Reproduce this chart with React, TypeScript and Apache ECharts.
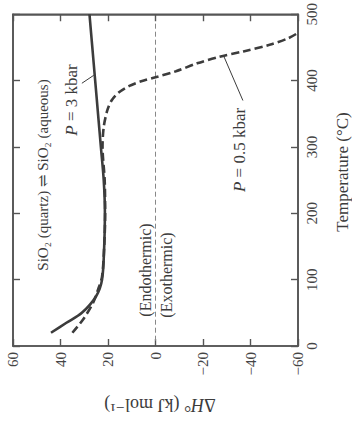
import React, { useEffect, useRef } from "react";
import * as echarts from "echarts";

// ΔH° (kJ/mol) vs Temperature (°C) — figure is rotated 90° CCW
const dHTicks = [60, 40, 20, 0, -20, -40, -60];
const tempTicks = [0, 100, 200, 300, 400, 500];

// P = 3 kbar : [ΔH, T]
const solidDH = [44, 37.5, 31, 25, 22.5, 21.6, 21.3, 21.8, 23, 24.2, 25.4, 26.6, 27.8];
const solidT = [20, 35, 50, 75, 100, 150, 200, 250, 300, 350, 400, 450, 500];

// P = 0.5 kbar : [ΔH, T]
const dashDH = [35, 30.5, 26.3, 24.2, 22.5, 21.6, 21.2, 21.4, 22.3, 21.8, 20.3, 18.5, 15.5, 11, 6, 0, -8.6, -17.5, -27, -37, -48, -56, -60];
const dashT = [20, 40, 65, 85, 105, 150, 200, 250, 300, 330, 355, 370, 382, 392, 399, 405, 414, 426, 436, 444, 454, 464, 472];

// zero reference line and leader lines
const zeroLine = [[0, 8], [0, 490]];
const leader3 = [[31, 396], [26, 408]];
const leader05 = [[-36.8, 370], [-28.6, 438]];

const SERIF = "'Liberation Serif', 'DejaVu Serif', serif";
const INK = "#3c3c3c";
const AX = "#555";

export default function App() {
  const ref = useRef<HTMLDivElement>(null);
  useEffect(() => {
    if (!ref.current) return;
    document.body.style.margin = "0";
    const chart = echarts.init(ref.current, undefined, { renderer: "svg" });
    const axisLine = () => ({ show: true, onZero: false, lineStyle: { color: AX, width: 1.6 } });
    const tick = () => ({ show: true, inside: true, length: 7, lineStyle: { color: AX, width: 1.4 } });
    const zip = (a: number[], b: number[]) => a.map((v, i) => [v, b[i]]);
    chart.setOption({
      animation: false,
      backgroundColor: "#fff",
      grid: {
        left: 13, right: 54, top: 14, bottom: 75,
        show: true, borderColor: AX, borderWidth: 1.6,
      },
      xAxis: [
        {
          type: "value", min: -60, max: 60, interval: 20, inverse: true, position: "bottom",
          axisLine: axisLine(), axisTick: tick(), splitLine: { show: false },
          axisLabel: {
            rotate: 90, fontSize: 15, fontFamily: SERIF, color: "#444", margin: 6,
            formatter: (v: number) => (dHTicks.includes(v) ? String(v).replace("-", "−") : ""),
          },
        },
        {
          type: "value", min: -60, max: 60, interval: 20, inverse: true, position: "top",
          axisLine: axisLine(), axisTick: tick(), splitLine: { show: false },
          axisLabel: { show: true, formatter: () => "" },
        },
      ],
      yAxis: [
        {
          type: "value", min: 0, max: 500, interval: 100, position: "right",
          axisLine: axisLine(), axisTick: tick(), splitLine: { show: false },
          axisLabel: {
            rotate: 90, fontSize: 15, fontFamily: SERIF, color: "#444", margin: 6,
            formatter: (v: number) => (tempTicks.includes(v) ? String(v) : ""),
          },
        },
        {
          type: "value", min: 0, max: 500, interval: 100, position: "left",
          axisLine: axisLine(), axisTick: tick(), splitLine: { show: false },
          axisLabel: { show: true, formatter: () => "" },
        },
      ],
      series: [
        {
          type: "line", data: zeroLine, symbol: "none", silent: true,
          lineStyle: { color: "#888", width: 1, type: [5, 3] },
        },
        {
          type: "line", data: zip(dashDH, dashT), symbol: "none", smooth: 0.3,
          lineStyle: { color: INK, width: 2.6, type: [8, 4] },
        },
        {
          type: "line", data: zip(solidDH, solidT), symbol: "none", smooth: 0.3,
          lineStyle: { color: INK, width: 2.6 },
        },
        { type: "line", data: leader3, symbol: "none", lineStyle: { color: INK, width: 1 } },
        { type: "line", data: leader05, symbol: "none", lineStyle: { color: INK, width: 1 } },
      ],
      graphic: [
        {
          type: "text", x: 43, y: 175, rotation: Math.PI / 2,
          style: {
            text: "SiO₂ (quartz) ⇌ SiO₂ (aqueous)", fontSize: 15, fontFamily: SERIF,
            fill: INK, align: "center", verticalAlign: "middle",
          },
        },
        {
          type: "text", x: 71, y: 100, rotation: Math.PI / 2,
          style: {
            text: "{i|P} = 3 kbar", fontSize: 17, fontFamily: SERIF, fill: INK,
            align: "center", verticalAlign: "middle",
            rich: { i: { fontStyle: "italic", fontSize: 17, fontFamily: SERIF, fill: INK } },
          },
        },
        {
          type: "text", x: 239, y: 150, rotation: Math.PI / 2,
          style: {
            text: "{i|P} = 0.5 kbar", fontSize: 17, fontFamily: SERIF, fill: INK,
            align: "center", verticalAlign: "middle",
            rich: { i: { fontStyle: "italic", fontSize: 17, fontFamily: SERIF, fill: INK } },
          },
        },
        {
          type: "text", x: 145, y: 270, rotation: Math.PI / 2,
          style: {
            text: "(Endothermic)", fontSize: 16, fontFamily: SERIF, fill: INK,
            align: "center", verticalAlign: "middle",
          },
        },
        {
          type: "text", x: 166, y: 275, rotation: Math.PI / 2,
          style: {
            text: "(Exothermic)", fontSize: 16, fontFamily: SERIF, fill: INK,
            align: "center", verticalAlign: "middle",
          },
        },
        {
          type: "text", x: 342, y: 172, rotation: Math.PI / 2,
          style: {
            text: "Temperature (°C)", fontSize: 17, fontFamily: SERIF, fill: INK,
            align: "center", verticalAlign: "middle",
          },
        },
        {
          type: "text", x: 160, y: 405, rotation: Math.PI,
          style: {
            text: "Δ{i|H}° (kJ mol⁻¹)", fontSize: 18, fontFamily: SERIF, fill: INK,
            align: "center", verticalAlign: "middle",
            rich: { i: { fontStyle: "italic", fontSize: 18, fontFamily: SERIF, fill: INK } },
          },
        },
      ],
    });
    return () => chart.dispose();
  }, []);
  return <div ref={ref} style={{ width: 352, height: 421 }} />;
}
